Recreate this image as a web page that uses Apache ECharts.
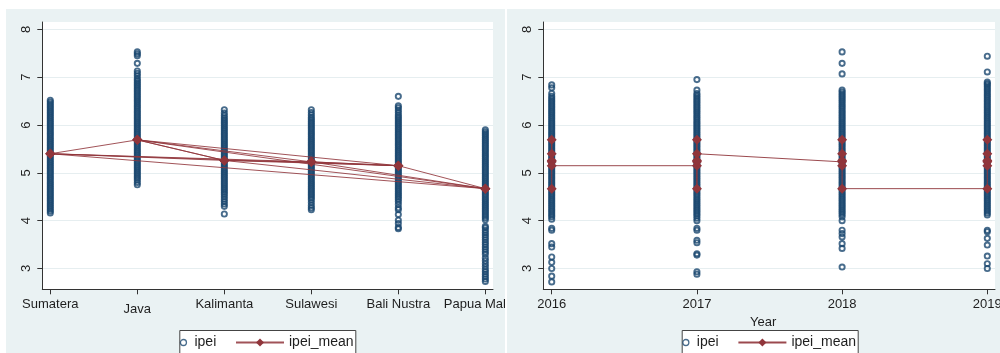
<!DOCTYPE html>
<html>
<head>
<meta charset="utf-8">
<script src="https://cdn.jsdelivr.net/npm/echarts@6/dist/echarts.min.js"></script>
<style>
  html, body { margin:0; padding:0; background:#ffffff; width:1000px; height:353px; overflow:hidden; }
  #left { position:absolute; left:6px; top:9px; width:499px; height:344px; overflow:hidden; }
  #right { position:absolute; left:507px; top:9px; width:493px; height:344px; overflow:hidden; }
</style>
</head>
<body>
<div id="left"></div>
<div id="right"></div>
<script>
// ---------- data ----------
const regions = ['Sumatera', 'Java', 'Kalimanta', 'Sulawesi', 'Bali Nustra', 'Papua Maluku'];
const years = [2016, 2017, 2018, 2019];
const yTicks = [3, 4, 5, 6, 7, 8];

// mean ipei by region
const meanIpei = [5.40, 5.69, 5.26, 5.23, 5.15, 4.67];

// ipei observations by region
const ipeiSumatera = [4.16,4.2,4.24,4.28,4.32,4.36,4.4,4.44,4.48,4.52,4.56,4.6,4.64,4.68,4.72,4.76,4.8,4.84,4.88,4.92,4.96,5.0,5.04,5.08,5.12,5.16,5.2,5.24,5.28,5.32,5.36,5.4,5.44,5.48,5.52,5.56,5.6,5.64,5.68,5.72,5.76,5.8,5.84,5.88,5.92,5.96,6.0,6.04,6.08,6.12,6.16,6.2,6.24,6.28,6.32,6.36,6.4,6.44,6.48,6.52];
const ipeiJava = [4.75,4.8,4.85,4.89,4.93,4.97,5.01,5.05,5.09,5.13,5.17,5.21,5.25,5.29,5.33,5.37,5.41,5.45,5.49,5.53,5.57,5.61,5.65,5.69,5.73,5.77,5.81,5.85,5.89,5.93,5.97,6.01,6.05,6.09,6.13,6.17,6.21,6.25,6.29,6.33,6.37,6.41,6.45,6.49,6.53,6.57,6.61,6.65,6.69,6.73,6.77,6.81,6.85,6.89,6.93,6.97,7.03,7.08,7.13,7.29,7.45,7.49,7.53];
const ipeiKalimanta = [4.14,4.3,4.35,4.4,4.45,4.5,4.55,4.59,4.63,4.67,4.71,4.75,4.79,4.83,4.87,4.91,4.95,4.99,5.03,5.07,5.11,5.15,5.19,5.23,5.27,5.31,5.35,5.39,5.43,5.47,5.51,5.55,5.59,5.63,5.67,5.71,5.75,5.79,5.83,5.87,5.91,5.95,5.99,6.03,6.07,6.11,6.15,6.2,6.25,6.32];
const ipeiSulawesi = [4.23,4.27,4.32,4.38,4.44,4.48,4.52,4.56,4.6,4.64,4.68,4.72,4.76,4.8,4.84,4.88,4.92,4.96,5.0,5.04,5.08,5.12,5.16,5.2,5.24,5.28,5.32,5.36,5.4,5.44,5.48,5.52,5.56,5.6,5.64,5.68,5.72,5.76,5.8,5.84,5.88,5.92,5.96,6.0,6.04,6.08,6.12,6.16,6.21,6.26,6.32];
const ipeiBali = [3.83,3.86,3.94,4.01,4.13,4.23,4.27,4.34,4.4,4.45,4.49,4.53,4.57,4.61,4.65,4.69,4.73,4.77,4.81,4.85,4.89,4.93,4.97,5.01,5.05,5.09,5.13,5.17,5.21,5.25,5.29,5.33,5.37,5.41,5.45,5.49,5.53,5.57,5.61,5.65,5.69,5.73,5.77,5.81,5.85,5.89,5.93,5.97,6.01,6.05,6.09,6.13,6.17,6.21,6.26,6.31,6.36,6.4,6.6];
const ipeiPapua = [2.73,2.78,2.83,2.88,2.93,2.98,3.04,3.1,3.16,3.22,3.3,3.35,3.4,3.45,3.5,3.55,3.6,3.65,3.7,3.75,3.8,3.85,3.88,4.02,4.06,4.1,4.14,4.18,4.22,4.26,4.3,4.34,4.38,4.42,4.46,4.5,4.54,4.58,4.62,4.66,4.7,4.74,4.78,4.82,4.86,4.9,4.94,4.98,5.02,5.06,5.1,5.14,5.18,5.22,5.26,5.3,5.34,5.38,5.42,5.46,5.5,5.54,5.58,5.62,5.66,5.7,5.74,5.78,5.82,5.86,5.9];

// ipei observations by year
const ipei2016 = [2.72,2.84,3.0,3.13,3.24,3.45,3.52,3.8,3.84,4.03,4.08,4.12,4.16,4.2,4.24,4.28,4.32,4.36,4.4,4.44,4.48,4.52,4.56,4.6,4.64,4.68,4.72,4.76,4.8,4.84,4.88,4.92,4.96,5.0,5.04,5.08,5.12,5.16,5.2,5.24,5.28,5.32,5.36,5.4,5.44,5.48,5.52,5.56,5.6,5.64,5.68,5.72,5.76,5.8,5.84,5.88,5.92,5.96,6.0,6.04,6.08,6.12,6.16,6.2,6.24,6.28,6.32,6.36,6.4,6.44,6.48,6.52,6.56,6.6,6.66,6.78,6.84];
const ipei2017 = [2.88,2.93,3.28,3.31,3.54,3.59,3.8,3.84,4.0,4.05,4.1,4.14,4.18,4.22,4.26,4.3,4.34,4.38,4.42,4.46,4.5,4.54,4.58,4.62,4.66,4.7,4.74,4.78,4.82,4.86,4.9,4.94,4.98,5.02,5.06,5.1,5.14,5.18,5.22,5.26,5.3,5.34,5.38,5.42,5.46,5.5,5.54,5.58,5.62,5.66,5.7,5.74,5.78,5.82,5.86,5.9,5.94,5.98,6.02,6.06,6.1,6.14,6.18,6.22,6.26,6.3,6.34,6.38,6.42,6.46,6.5,6.54,6.58,6.62,6.66,6.73,6.95];
const ipei2018 = [3.03,3.42,3.52,3.66,3.73,3.8,4.0,4.08,4.13,4.17,4.21,4.25,4.29,4.33,4.37,4.41,4.45,4.49,4.53,4.57,4.61,4.65,4.69,4.73,4.77,4.81,4.85,4.89,4.93,4.97,5.01,5.05,5.09,5.13,5.17,5.21,5.25,5.29,5.33,5.37,5.41,5.45,5.49,5.53,5.57,5.61,5.65,5.69,5.73,5.77,5.81,5.85,5.89,5.93,5.97,6.01,6.05,6.09,6.13,6.17,6.21,6.25,6.29,6.33,6.37,6.41,6.45,6.49,6.53,6.57,6.61,6.65,6.69,6.73,7.07,7.29,7.53];
const ipei2019 = [3.0,3.1,3.26,3.49,3.63,3.77,3.8,4.12,4.16,4.2,4.24,4.28,4.32,4.36,4.4,4.44,4.48,4.52,4.56,4.6,4.64,4.68,4.72,4.76,4.8,4.84,4.88,4.92,4.96,5.0,5.04,5.08,5.12,5.16,5.2,5.24,5.28,5.32,5.36,5.4,5.44,5.48,5.52,5.56,5.6,5.64,5.68,5.72,5.76,5.8,5.84,5.88,5.92,5.96,6.0,6.04,6.08,6.12,6.16,6.2,6.24,6.28,6.32,6.36,6.4,6.44,6.48,6.52,6.56,6.6,6.64,6.68,6.72,6.76,6.8,6.84,6.87,6.9,7.11,7.44];

// order in which the connected ipei_mean line visits observations (left panel: by region)
const meanPathLeft = ['Sumatera','Java','Kalimanta','Sumatera','Sulawesi','Java','Bali Nustra','Sumatera','Papua Maluku','Java','Kalimanta','Sulawesi','Bali Nustra','Kalimanta','Papua Maluku','Sulawesi','Bali Nustra','Papua Maluku'];
// right panel: by year
const meanPathYears = [2016,2016,2016,2016,2016,2016, 2017,2017,2017,2017,2017,2017, 2018,2018,2018,2018,2018,2018, 2019,2019,2019,2019,2019,2019];
const meanPathRegions = ['Papua Maluku','Java','Sumatera','Kalimanta','Sulawesi','Bali Nustra',
                         'Bali Nustra','Papua Maluku','Sulawesi','Kalimanta','Java','Sumatera',
                         'Sulawesi','Kalimanta','Java','Sumatera','Bali Nustra','Papua Maluku',
                         'Papua Maluku','Bali Nustra','Sulawesi','Kalimanta','Sumatera','Java'];

// ---------- styling ----------
const FONT = '"Liberation Sans", Arial, Helvetica, sans-serif';
const NAVY = '#1a476f';
const MAROON = '#90353b';
const BG = '#eaf2f3';
const AXIS = '#333333';
const TXT = '#1e1e1e';
const Y_MIN = 2.565, Y_MAX = 8.155;

function yAxisOpt() {
  return {
    type: 'value', min: Y_MIN, max: Y_MAX,
    axisLine: { show: true, lineStyle: { color: AXIS, width: 1 } },
    axisTick: { show: true, length: 5, customValues: yTicks, lineStyle: { color: AXIS } },
    axisLabel: { customValues: yTicks, rotate: 90, margin: 9, fontSize: 13, color: TXT, fontFamily: FONT },
    splitLine: { show: true, lineStyle: { color: '#e6eef0', width: 1 } }
  };
}

function legendOpts(boxX) {
  return [
    { data: [{ name: 'ipei', icon: 'circle', itemStyle: { color: 'rgba(0,0,0,0)', borderColor: NAVY, borderWidth: 1.3 } }],
      left: boxX + 0.5, top: 326.5, itemWidth: 12, itemHeight: 6, padding: 0,
      selectedMode: false, textStyle: { fontSize: 14, color: TXT, fontFamily: FONT } },
    { data: ['ipei_mean'], left: boxX + 55.7, top: 326.5, itemWidth: 48, itemHeight: 10, padding: 0,
      selectedMode: false, textStyle: { fontSize: 14, color: TXT, fontFamily: FONT } }
  ];
}

function legendBox(boxX) {
  return { type: 'rect', shape: { x: boxX + 0.5, y: 321.5, width: 176, height: 40 },
           style: { fill: '#ffffff', stroke: '#444444', lineWidth: 1 }, z: 1, silent: true };
}

const scatterStyle = { color: 'rgba(0,0,0,0)', borderColor: NAVY, borderWidth: 1.9 };
const SCATTER_SIZE = 5.2;

// ---------- left chart ----------
const leftIpei = [ipeiSumatera, ipeiJava, ipeiKalimanta, ipeiSulawesi, ipeiBali, ipeiPapua];
const leftScatter = [];
leftIpei.forEach((arr, i) => arr.forEach(v => leftScatter.push([i + 1, v])));
const leftMean = meanPathLeft.map(n => { const i = regions.indexOf(n); return [i + 1, meanIpei[i]]; });

const leftChart = echarts.init(document.getElementById('left'), null, { renderer: 'canvas' });
leftChart.setOption({
  animation: false,
  backgroundColor: BG,
  grid: { left: 36.3, right: 12, top: 13, bottom: 63.7, show: true, backgroundColor: '#ffffff', borderWidth: 0,
          containLabel: false, outerBoundsMode: 'none' },
  xAxis: {
    type: 'value', min: 0.908, max: 6.088,
    axisLine: { show: true, onZero: false, lineStyle: { color: AXIS, width: 1 } },
    axisTick: { show: true, length: 5, customValues: regions.map((_, i) => i + 1), lineStyle: { color: AXIS } },
    axisLabel: {
      customValues: regions.map((_, i) => i + 1), margin: 9, fontSize: 13, color: TXT, fontFamily: FONT,
      hideOverlap: false,
      formatter: v => { const n = regions[Math.round(v) - 1]; return n === 'Java' ? '{low|' + n + '}' : n; },
      rich: { low: { fontSize: 13, color: TXT, fontFamily: FONT, padding: [5, 0, 0, 0] } }
    },
    splitLine: { show: false }
  },
  yAxis: yAxisOpt(),
  legend: legendOpts(173.3),
  graphic: [legendBox(173.3)],
  series: [
    { name: 'ipei', type: 'scatter', symbol: 'circle', symbolSize: SCATTER_SIZE, itemStyle: scatterStyle, data: leftScatter, silent: true, z: 2 },
    { name: 'ipei_mean', type: 'line', symbol: 'diamond', symbolSize: 10, showAllSymbol: true,
      itemStyle: { color: MAROON }, lineStyle: { color: MAROON, width: 1, opacity: 0.85 },
      data: leftMean, silent: true, z: 3 }
  ]
});

// ---------- right chart ----------
const rightIpei = [ipei2016, ipei2017, ipei2018, ipei2019];
const rightScatter = [];
rightIpei.forEach((arr, i) => arr.forEach(v => rightScatter.push([years[i], v])));
const rightMean = meanPathYears.map((y, k) => [y, meanIpei[regions.indexOf(meanPathRegions[k])]]);

const rightChart = echarts.init(document.getElementById('right'), null, { renderer: 'canvas' });
rightChart.setOption({
  animation: false,
  backgroundColor: BG,
  grid: { left: 36.3, right: 5, top: 13, bottom: 63.7, show: true, backgroundColor: '#ffffff', borderWidth: 0,
          containLabel: false, outerBoundsMode: 'none' },
  xAxis: {
    type: 'value', min: 2015.942, max: 2019.053,
    name: 'Year', nameLocation: 'middle', nameGap: 21,
    nameTextStyle: { fontSize: 13, color: TXT, fontFamily: FONT, padding: [0, 12, 0, 0] },
    axisLine: { show: true, onZero: false, lineStyle: { color: AXIS, width: 1 } },
    axisTick: { show: true, length: 5, customValues: years, lineStyle: { color: AXIS } },
    axisLabel: { customValues: years, margin: 9, fontSize: 13, color: TXT, fontFamily: FONT,
                 hideOverlap: false, formatter: v => String(Math.round(v)) },
    splitLine: { show: false }
  },
  yAxis: yAxisOpt(),
  legend: legendOpts(174.7),
  graphic: [legendBox(174.7)],
  series: [
    { name: 'ipei', type: 'scatter', symbol: 'circle', symbolSize: SCATTER_SIZE, itemStyle: scatterStyle, data: rightScatter, silent: true, z: 2 },
    { name: 'ipei_mean', type: 'line', symbol: 'diamond', symbolSize: 10, showAllSymbol: true,
      itemStyle: { color: MAROON }, lineStyle: { color: MAROON, width: 1, opacity: 0.9 },
      data: rightMean, silent: true, z: 3 }
  ]
});
</script>
</body>
</html>
